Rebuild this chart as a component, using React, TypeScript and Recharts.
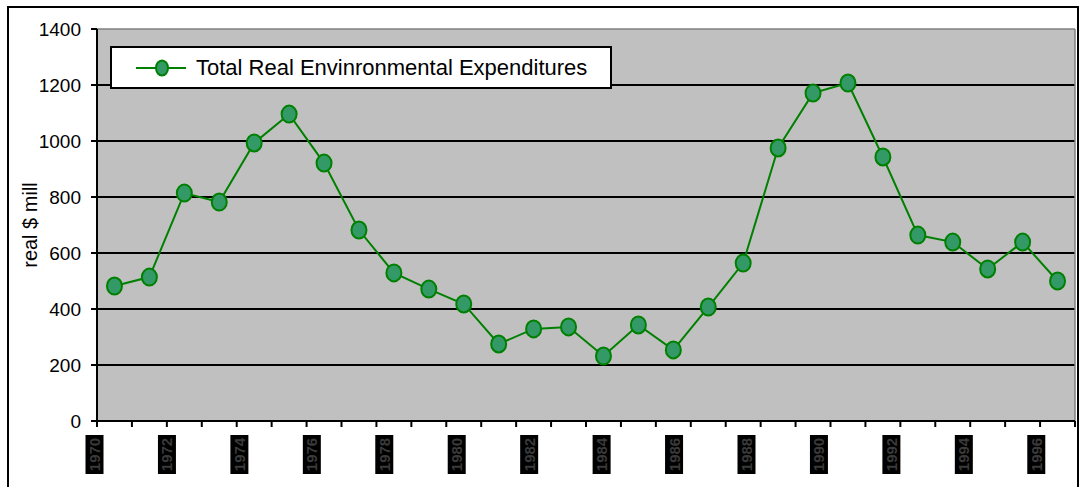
import React from 'react';
import { LineChart, Line, XAxis, YAxis, CartesianGrid, Legend, ReferenceLine } from 'recharts';

const years = [
  '1970', '1971', '1972', '1973', '1974', '1975', '1976', '1977', '1978', '1979',
  '1980', '1981', '1982', '1983', '1984', '1985', '1986', '1987', '1988', '1989',
  '1990', '1991', '1992', '1993', '1994', '1995', '1996', '1997',
];
const expenditures = [
  482, 514, 814, 782, 993, 1096, 921, 682, 529, 471,
  418, 275, 329, 336, 232, 343, 254, 407, 564, 975,
  1171, 1207, 943, 664, 639, 543, 639, 500,
];
const yTicks = [0, 200, 400, 600, 800, 1000, 1200, 1400];
const gridValues = [200, 400, 600, 800, 1000, 1200];
const seriesName = 'Total Real Envinronmental Expenditures';
const yAxisTitle = 'real $ mill';

const data = years.map((year, i) => ({ pos: i + 0.5, year, value: expenditures[i] }));
const boundaryTicks = years.map((_, i) => i).concat(years.length);
const Y_MAX = yTicks[yTicks.length - 1];

const MARGIN = { top: 29, right: 6, bottom: 0, left: 40 };
const Y_AXIS_W = 57;
const Y_TICK_PX = 6;

const FONT = '"Liberation Sans", Arial, sans-serif';
const LINE_COLOR = '#008000';
const DOT_FILL = '#339966';

const EllipseDot = (props: any) => {
  const { cx, cy, index } = props;
  if (cx == null || cy == null) return null;
  return (
    <ellipse key={`d${index}`} cx={cx} cy={cy} rx={7.5} ry={8.5} fill={DOT_FILL} stroke={LINE_COLOR} strokeWidth={2} />
  );
};

const EmptyTick = () => <g />;

const YearTick = (props: any) => {
  const { x, y, payload } = props;
  const cx = x - 2.5;
  const cy = y + 25.5;
  return (
    <g>
      <rect x={cx - 9} y={y + 6} width={18} height={39} fill="#000" />
      <text
        x={cx}
        y={cy}
        transform={`rotate(-90, ${cx}, ${cy})`}
        textAnchor="middle"
        dominantBaseline="central"
        style={{ fontFamily: FONT, fontWeight: 'bold', fontSize: 15 }}
        fill="#3a3a3a"
      >
        {payload.value}
      </text>
    </g>
  );
};

// Axis title plus the y tick marks, positioned from the axis viewBox
const YTitle = (props: any) => {
  const vb = props.viewBox || { x: 0, y: 0, width: 0, height: 0 };
  const x = vb.x - 10;
  const y = vb.y + vb.height / 2;
  const right = vb.x + vb.width;
  return (
    <g>
      {yTicks.map((v) => {
        const ty = vb.y + vb.height * (1 - v / Y_MAX);
        return (
          <line key={`t${v}`} x1={right - Y_TICK_PX} y1={ty} x2={right} y2={ty} stroke="#000" strokeWidth={2} />
        );
      })}
      <line x1={right} y1={vb.y} x2={right} y2={vb.y + vb.height + Y_TICK_PX} stroke="#000" strokeWidth={2} />
      <text
        x={x}
        y={y}
        transform={`rotate(-90, ${x}, ${y})`}
        textAnchor="middle"
        dominantBaseline="central"
        style={{ fontFamily: FONT, fontSize: 20 }}
        fill="#000"
      >
        {yAxisTitle}
      </text>
    </g>
  );
};

const LegendBox = () => (
  <div
    style={{
      boxSizing: 'border-box',
      width: 502,
      height: 43,
      background: '#fff',
      border: '2px solid #000',
      display: 'flex',
      alignItems: 'center',
      fontFamily: FONT,
      fontSize: 22,
      color: '#000',
    }}
  >
    <svg width={84} height={30} style={{ display: 'block' }}>
      <line x1={24} y1={15} x2={74} y2={15} stroke={LINE_COLOR} strokeWidth={2} />
      <ellipse cx={50} cy={15} rx={6} ry={7.5} fill={DOT_FILL} stroke={LINE_COLOR} strokeWidth={2} />
    </svg>
    <span style={{ whiteSpace: 'nowrap', lineHeight: 1 }}>{seriesName}</span>
  </div>
);

export default function App() {
  return (
    <div style={{ position: 'absolute', left: 0, top: 0, width: 1081, height: 487, overflow: 'hidden', background: '#fff' }}>
      <div
        style={{
          position: 'absolute',
          left: 7,
          top: 6,
          width: 1072,
          height: 481,
          boxSizing: 'border-box',
          borderTop: '2px solid #000',
          borderLeft: '2px solid #000',
          borderRight: '2px solid #000',
        }}
      />
      <div style={{ position: 'absolute', left: 0, top: 0 }}>
        <LineChart width={1081} height={487} data={data} margin={MARGIN}>
          <CartesianGrid
            xAxisId={0}
            fill="#C0C0C0"
            fillOpacity={1}
            vertical={false}
            horizontalValues={gridValues}
            stroke="#000"
            strokeWidth={2}
          />
          <XAxis
            xAxisId={0}
            type="number"
            dataKey="pos"
            domain={[0, years.length]}
            ticks={boundaryTicks}
            interval={0}
            tick={<EmptyTick />}
            tickSize={6}
            tickMargin={0}
            height={8}
            stroke="#000"
            strokeWidth={2}
            axisLine={{ stroke: '#000', strokeWidth: 2 }}
            tickLine={{ stroke: '#000', strokeWidth: 2 }}
            allowDataOverflow
          />
          <XAxis
            xAxisId={1}
            dataKey="year"
            type="category"
            interval={1}
            axisLine={false}
            tickLine={false}
            tickSize={0}
            tickMargin={0}
            height={58}
            tick={<YearTick />}
          />
          <YAxis
            domain={[0, Y_MAX]}
            ticks={yTicks}
            interval={0}
            width={Y_AXIS_W}
            tickSize={Y_TICK_PX}
            tickMargin={10}
            axisLine={{ stroke: '#000', strokeWidth: 2 }}
            tickLine={{ stroke: '#000', strokeWidth: 2 }}
            tick={{ fontFamily: FONT, fontSize: 19, fill: '#000', stroke: 'none' }}
            label={<YTitle />}
          />
          <ReferenceLine xAxisId={0} y={Y_MAX} stroke="#808080" strokeWidth={1.5} />
          <ReferenceLine xAxisId={0} x={years.length} stroke="#808080" strokeWidth={1.5} />
          <ReferenceLine xAxisId={0} y={0} stroke="#000" strokeWidth={2} />
          <Legend
            layout="vertical"
            align="center"
            verticalAlign="middle"
            wrapperStyle={{ top: 46, left: 110, width: 502, height: 43 }}
            content={<LegendBox />}
          />
          <Line
            xAxisId={0}
            type="linear"
            dataKey="value"
            name={seriesName}
            stroke={LINE_COLOR}
            strokeWidth={2}
            dot={<EllipseDot />}
            activeDot={false}
            isAnimationActive={false}
          />
        </LineChart>
      </div>
    </div>
  );
}
